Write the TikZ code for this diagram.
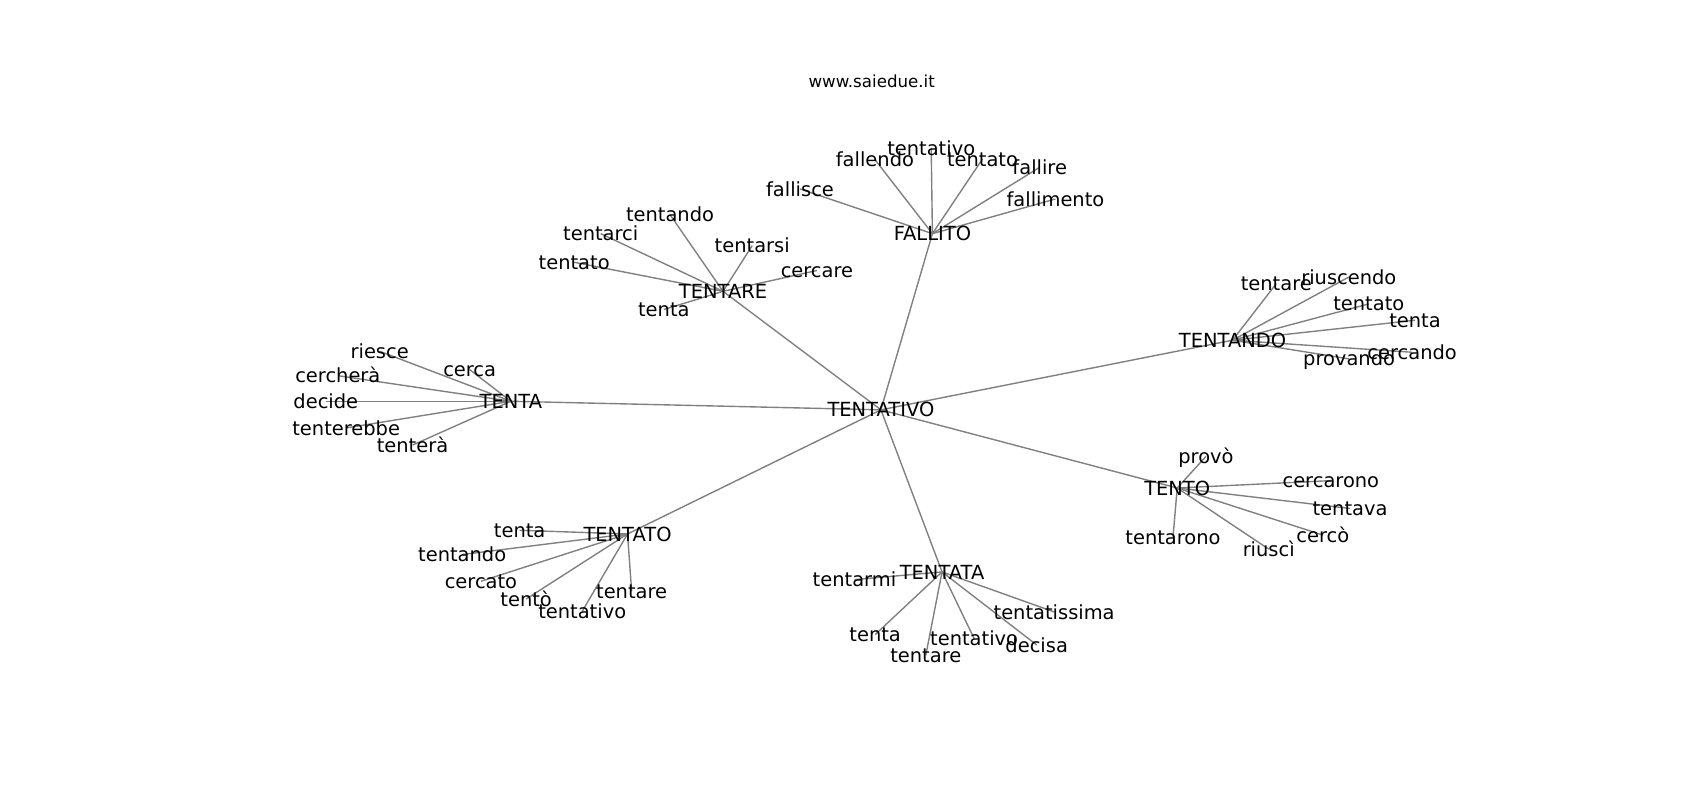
\documentclass[tikz,border=0pt]{standalone}
\usepackage{fontspec}
\setmainfont{DejaVu Sans}
\usetikzlibrary{backgrounds}
\begin{document}
\begin{tikzpicture}[x=0.7806pt,y=-0.7806pt,
  lbl/.style={font=\fontsize{14}{16}\selectfont, inner sep=0pt, text height=10.2pt, text depth=0pt, text=black},
  ttl/.style={font=\fontsize{12}{14}\selectfont, inner sep=0pt, text height=8.76pt, text depth=0pt, text=black},
  link/.style={draw={rgb,255:red,128;green,128;blue,128}, line width=1pt}]
\useasboundingbox (0,0) rectangle (1568,738);
\node[ttl] (title) at (804,75) {www.saiedue.it};
\node[lbl] (c) at (812.5,378) {TENTATIVO};
% FALLITO
\node[lbl] (f) at (860,215.5) {FALLITO};
\node[lbl] (f1) at (737.9,174.3) {fallisce};
\node[lbl] (f2) at (807,147.2) {fallendo};
\node[lbl] (f3) at (858.9,136.5) {tentativo};
\node[lbl] (f4) at (906.2,146.6) {tentato};
\node[lbl] (f5) at (959,154.3) {fallire};
\node[lbl] (f6) at (973.5,183.5) {fallimento};
% TENTARE
\node[lbl] (r) at (666.9,268.7) {TENTARE};
\node[lbl] (r1) at (618,198) {tentando};
\node[lbl] (r2) at (554.1,215.5) {tentarci};
\node[lbl] (r3) at (529.6,241.9) {tentato};
\node[lbl] (r4) at (693.8,226.5) {tentarsi};
\node[lbl] (r5) at (753.5,249.5) {cercare};
\node[lbl] (r6) at (612.3,285.5) {tenta};
% TENTANDO
\node[lbl] (d) at (1136.8,313.8) {TENTANDO};
\node[lbl] (d1) at (1177.2,261.6) {tentare};
\node[lbl] (d2) at (1244.1,255.5) {riuscendo};
\node[lbl] (d3) at (1262.5,280.3) {tentato};
\node[lbl] (d4) at (1305.1,295.4) {tenta};
\node[lbl] (d5) at (1302.5,324.9) {cercando};
\node[lbl] (d6) at (1244.3,331) {provando};
% TENTA
\node[lbl] (a) at (471.2,370.1) {TENTA};
\node[lbl] (a1) at (350.2,324) {riesce};
\node[lbl] (a2) at (433.2,340.9) {cerca};
\node[lbl] (a3) at (311.6,346.5) {cercherà};
\node[lbl] (a4) at (300.5,370.1) {decide};
\node[lbl] (a5) at (319.3,394.7) {tenterebbe};
\node[lbl] (a6) at (380.5,410.5) {tenterà};
% TENTATO
\node[lbl] (o) at (578.8,492.5) {TENTATO};
\node[lbl] (o1) at (479.3,489.1) {tenta};
\node[lbl] (o2) at (426.3,511.5) {tentando};
\node[lbl] (o3) at (443.6,536.1) {cercato};
\node[lbl] (o4) at (582.6,545.4) {tentare};
\node[lbl] (o5) at (485.3,552.5) {tentò};
\node[lbl] (o6) at (537,563.8) {tentativo};
% TENTATA
\node[lbl] (t) at (868.9,527.5) {TENTATA};
\node[lbl] (t1) at (788.1,534.6) {tentarmi};
\node[lbl] (t2) at (972.3,564.4) {tentatissima};
\node[lbl] (t3) at (807.2,585.3) {tenta};
\node[lbl] (t4) at (898.5,589) {tentativo};
\node[lbl] (t5) at (956.2,594.9) {decisa};
\node[lbl] (t6) at (853.9,604.4) {tentare};
% TENTO
\node[lbl] (p) at (1085.8,450.1) {TENTO};
\node[lbl] (p1) at (1112.3,421) {provò};
\node[lbl] (p2) at (1227.5,443.3) {cercarono};
\node[lbl] (p3) at (1245.2,469) {tentava};
\node[lbl] (p4) at (1220.1,493.5) {cercò};
\node[lbl] (p5) at (1081.9,495.5) {tentarono};
\node[lbl] (p6) at (1170.2,506.5) {riuscì};
\begin{pgfonlayer}{background}
\fill[white] (0,0) rectangle (1568,738);
\foreach \h in {f,r,d,a,o,t,p}{
  \draw[link] (c.center) -- (\h.center);
  \foreach \i in {1,...,6}{
    \draw[link] (\h.center) -- (\h\i.center);
  }
}
\end{pgfonlayer}
\end{tikzpicture}
\end{document}
